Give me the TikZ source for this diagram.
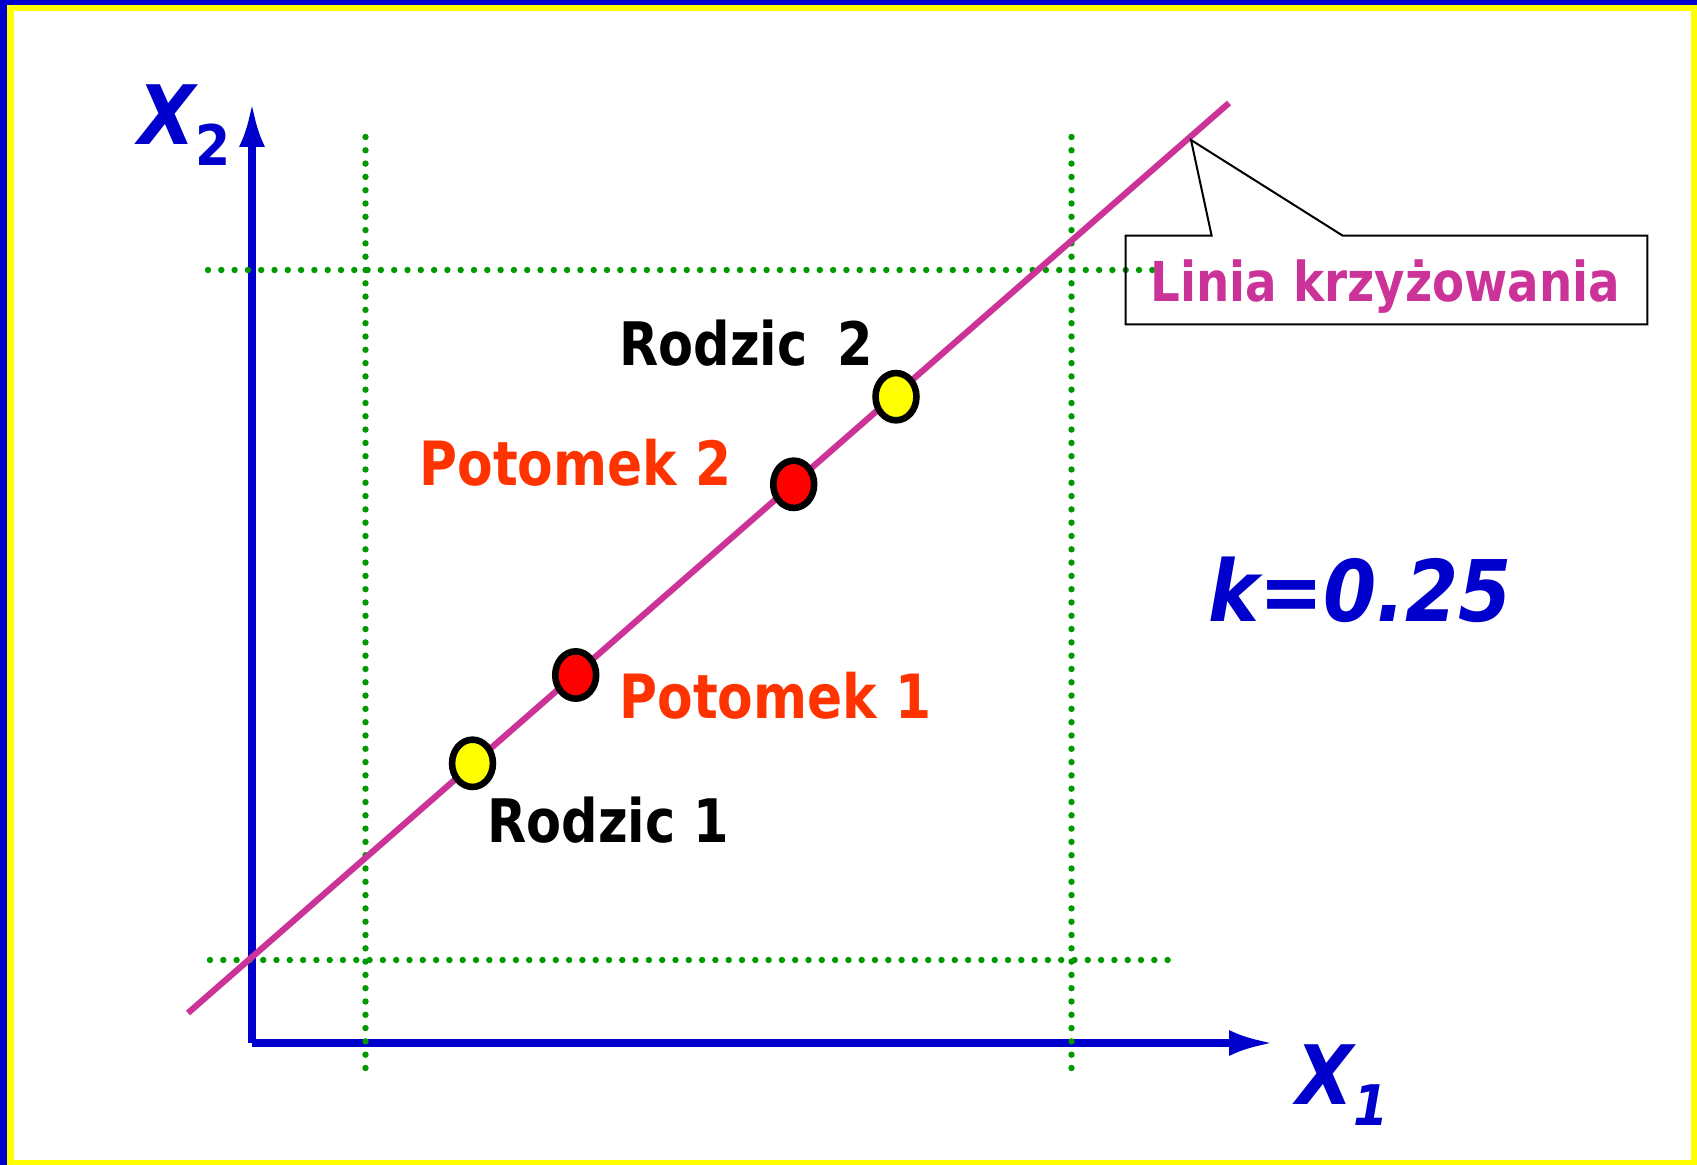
\documentclass[tikz,border=0pt]{standalone}
\usepackage{fontspec}
\usetikzlibrary{shapes.geometric,arrows.meta}
\newfontfamily\labfont{DejaVu Sans}[FakeStretch=0.85]
\newfontfamily\labfontw{DejaVu Sans}[FakeStretch=0.9]
\definecolor{axblue}{HTML}{0000CC}
\definecolor{magline}{HTML}{CC3399}
\definecolor{offred}{HTML}{FF3300}
\definecolor{dotgreen}{HTML}{009900}
\definecolor{ptred}{HTML}{FF0000}
\definecolor{ptyellow}{HTML}{FFFF00}
\begin{document}
\begin{tikzpicture}[x=0.5pt,y=-0.5pt,
  axisline/.style={draw=axblue, line width=3.6pt},
  griddots/.style={draw=dotgreen, line width=3.2pt, line cap=round, dash pattern=on 0pt off 6.65pt},
  crossline/.style={draw=magline, line width=3.1pt},
  parentpt/.style={ellipse, draw=black, line width=3.3pt, fill=ptyellow, minimum width=20.45pt, minimum height=23.65pt, inner sep=0},
  childpt/.style={parentpt, fill=ptred},
  lab/.style={inner sep=0, anchor=base west},
  rodzic/.style={lab, text=black, font=\labfont\bfseries\fontsize{30}{32}\selectfont},
  potomek/.style={lab, text=offred, font=\labfont\bfseries\fontsize{30.5}{32}\selectfont},
  axlab/.style={lab, text=axblue, font=\labfontw\bfseries\fontsize{41}{44}\selectfont},
  callout/.style={draw=black, line width=1pt, line join=miter}
]
\useasboundingbox (0,0) rectangle (1697,1165);
% frame
\fill[axblue] (0,0) rectangle (1697,1165);
\fill[ptyellow] (7,5) rectangle (1697,1165);
\fill[white] (14,11) rectangle (1691,1160);

% axes
\coordinate (O) at (252,1043);
\coordinate (x1tip) at (1273,1043);
\coordinate (x2tip) at (252,103);
\draw[axisline, -{Latex[length=22pt,width=13pt]}] (O) -- (x2tip);
\draw[axisline, -{Latex[length=22pt,width=13pt]}] (O) -- (x1tip);

% dotted bounds
\coordinate (h1a) at (208,270);  \coordinate (h1b) at (1161,270);
\coordinate (h2a) at (210,960);  \coordinate (h2b) at (1177,960);
\coordinate (v1a) at (365.5,137); \coordinate (v1b) at (365.5,1079);
\coordinate (v2a) at (1071.5,137); \coordinate (v2b) at (1071.5,1079);
\draw[griddots] (h1a) -- (h1b);
\draw[griddots] (h2a) -- (h2b);
\draw[griddots] (v1a) -- (v1b);
\draw[griddots] (v2a) -- (v2b);

% crossover line
\coordinate (ls) at (188,1013);
\coordinate (le) at (1229,103);
\draw[crossline] (ls) -- (le);

% points
\node[parentpt] (p1) at (472.5,763.3) {};
\node[childpt]  (c1) at (575.7,675) {};
\node[childpt]  (c2) at (793.7,484.3) {};
\node[parentpt] (p2) at (896,396.7) {};

% labels
\node[rodzic] (lp2) at (619,366) {Rodzic\hspace{6pt} 2};
\node[rodzic] (lp1) at (487,842) {Rodzic 1};
\node[potomek] (lc2) at (419,486) {Potomek 2};
\node[potomek] (lc1) at (619,718) {Potomek 1};

\node[lab, text=axblue, font=\labfontw\bfseries\itshape\fontsize{42.5}{46}\selectfont] (kval) at (1208,622) {k=0.25};

\node[axlab] (x2lab) at (138,145) {\itshape X\raisebox{-10.5pt}{\upshape\fontsize{28}{30}\selectfont 2}};
\node[axlab] (x1lab) at (1296,1104) {\itshape X\raisebox{-10.5pt}{\fontsize{28}{30}\selectfont 1}};

% callout
\coordinate (ctip) at (1191,140);
\node[minimum width=260.5pt, minimum height=44pt, inner sep=0] (callbox) at (1386.5,280) {};
\draw[callout] (callbox.north west) -- ([xshift=43pt]callbox.north west) -- (ctip)
  -- ([xshift=108.5pt]callbox.north west) -- (callbox.north east) -- (callbox.south east)
  -- (callbox.south west) -- cycle;
\node[lab, text=magline, font=\labfont\bfseries\fontsize{27.5}{30}\selectfont] (calltext) at (1150,302) {Linia krzyżowania};
\end{tikzpicture}
\end{document}
